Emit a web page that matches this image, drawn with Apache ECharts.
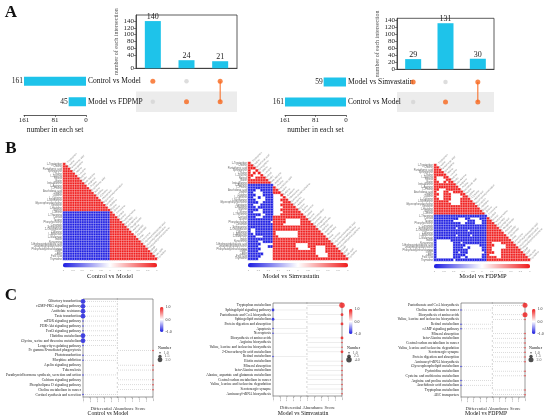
<!DOCTYPE html>
<html>
<head>
<meta charset="utf-8">
<script src="https://cdn.jsdelivr.net/npm/echarts/dist/echarts.min.js"></script>
<style>
  html, body { margin: 0; padding: 0; background: #fff; }
  #chart { width: 550px; height: 420px; }
</style>
</head>
<body>
<div id="chart"></div>
<script>
// ---- Panel A: upset plots ----
// sets are listed bottom row first
const upLeftSets = ['Model vs FDPMP', 'Control vs Model'];
const upLeftSizes = [45, 161];
const upLeftInter = [140, 24, 21];
const upLeftMember = [[0, 1], [1, 0], [1, 1]];   // per column: [bottom, top]

const upRightSets = ['Control vs Model', 'Model vs Simvastatin'];
const upRightSizes = [161, 59];
const upRightInter = [29, 131, 30];
const upRightMember = [[0, 1], [1, 0], [1, 1]];

const setAxisTicks = ['0', '81', '161'];

// ---- Panel B: correlation heatmaps (lower triangle, run length: r=+1, b=-1, .=blank) ----
const metabolites = ['L-Tryptophan', 'Choline', 'Pantothenic acid', 'Sphingosine', 'L-Valine', 'L-Leucine',
  'Retinol', 'Biotin', 'beta-Alanine', 'L-Arginine', 'L-Proline', 'Arachidonic acid', 'Uridine', 'Cytidine',
  'L-Cysteine', 'L-Methionine', 'Glycerophosphocholine', 'Serotonin', 'L-Histidine', 'Glycine', 'L-Serine',
  'L-Threonine', 'Cortisol', 'Taurine', 'Phosphocholine', 'Ceramide', 'Sphinganine', '2-Oxoglutarate',
  'L-Alanine', 'L-Aspartate', 'L-Glutamate', 'Indole', 'Kynurenine', '5-Hydroxyindoleacetic acid',
  'Lysophosphatidylcholine', 'Phosphatidylethanolamine', 'cGMP', 'cAMP', 'Folic acid', 'Thymidine'];

const heatCtrlModel = ['r1', 'r2', 'r3', 'r4', 'r5', 'r6', 'r7', 'r8', 'r9', 'r10',
  'r11', 'r12', 'r13', 'r14', 'r15', 'r16', 'r17', 'r18', 'r19', 'r20',
  'b20r1', 'b20r2', 'b20r3', 'b20r4', 'b20r5', 'b20r6', 'b20r7', 'b20r8', 'b20r9', 'b20r10',
  'b20r11', 'b20r12', 'b20r13', 'b20r14', 'b20r15', 'b20r16', 'b20r17', 'b20r18', 'b20r19', 'b20r20'];

const heatModelSimva = ['r1', 'r2', 'r3', 'r1.2r1', 'r1.1r1.1r1', 'r2.3r1', 'r1.2r4', 'r8', 'r9', 'b10',
  'b10r1', 'b3.2b5r2', 'b2.4b4r3', 'b3.3b4.3r1', 'b2.2b1.2b3.4r1', 'b3.4b3.3r3', 'b4.2b4.4r3',
  'b2.3b5.3r5', 'b3.1b6.4r5', 'b4.2b4.3r7', 'b2.4b4.4r7', 'b5.2b3.3r9', 'b3.3b4r13',
  'b10r5.6r3', 'b9.1r5.6r4', 'b10r4.7r5', 'b10r17', 'b1.2b7r18', 'b1.2b7r1.9r9', 'b2.1b7r1.9r10',
  'b3.3b4r2.8r11', 'b10r22', 'b4.2b4r23', 'b5.5r9.5r10', 'b4.4b2r9.5r3.4r4', 'b5.5r10.5r2.4r5',
  'b4.6r17.4r6', 'b6.4r17.5r6', 'b5.5r18.4r7', 'b4.6r30'];

const heatModelFdpmp = ['r1', 'r2', 'r3', 'r4', 'r5', 'r1.3r2', 'r1.4r2', 'r2.2r1.1r2', 'r9', 'r10',
  'r2.3r6', 'r1.3r2.2r4', 'r2.2r3.4r2', 'r1.3r3.5r2', 'r2.2r3.4r4', 'r6.5r5', 'r7.4r6', 'r18', 'r19',
  'r20', 'r21', 'b22', 'b10.3b2.4b3r1', 'b8.6b3.3b2r2', 'b11.2b4.3b2r3', 'b22r4', 'b9.1b12r5',
  'b14.1b7r6', 'b22r7', 'b9.1b5.1b6r8', 'b22r9', 'b1.6b15r10', 'b1.7b3.1b10r2.4r5',
  'b1.7b5.6b3r3.5r4', 'b1.7b4.2b1.5b2r2.6r5', 'b1.7b6.6b2r2.4r8', 'b1.7b2.1b3.7b1r3.3r9',
  'b1.7b5.7b2r1.5r10', 'b1.7b3.2b1.6b2r4.2r11', 'b8.1b13r18'];

const corrTicks = [-1, 1];

// ---- Panel C: differential abundance scores ----
const ctrlModelPaths = ['Olfactory transduction', 'cGMP-PKG signaling pathway', 'Antifolate resistance',
  'Taste transduction', 'mTOR signaling pathway', 'PI3K-Akt signaling pathway', 'FoxO signaling pathway',
  'Histidine metabolism', 'Glycine, serine and threonine metabolism', 'Longevity regulating pathway',
  'Fc gamma R-mediated phagocytosis', 'Phototransduction', 'Morphine addiction', 'Apelin signaling pathway',
  'Tuberculosis', 'Parathyroid hormone synthesis, secretion and action', 'Calcium signaling pathway',
  'Phospholipase D signaling pathway', 'Choline metabolism in cancer', 'Cortisol synthesis and secretion'];
const ctrlModelScore = [-1, -1, -1, -1, -1, -1, -1, -1, -1, -1, 1, -1, -1, 1, 1, -1, 1, 1, 1, -1];
const ctrlModelNumber = [2, 2, 2, 2, 1, 1, 1, 2, 2, 1, 1, 1, 1, 1, 1, 1, 1, 1, 1, 1];
const ctrlModelLegend = [1.0, 1.5, 2.0];

const simvaPaths = ['Tryptophan metabolism', 'Sphingolipid signaling pathway', 'Pantothenate and CoA biosynthesis',
  'Sphingolipid metabolism', 'Protein digestion and absorption', 'Apoptosis', 'Necroptosis',
  'Biosynthesis of amino acids', 'Arginine biosynthesis', 'Valine, leucine and isoleucine biosynthesis',
  '2-Oxocarboxylic acid metabolism', 'Retinol metabolism', 'Biotin metabolism', 'Mineral absorption',
  'beta-Alanine metabolism', 'Alanine, aspartate and glutamate metabolism', 'Central carbon metabolism in cancer',
  'Valine, leucine and isoleucine degradation', 'Serotonergic synapse', 'Aminoacyl-tRNA biosynthesis'];
const simvaScore = [1, -1, 1, -1, 1, -1, -1, 1, 1, 1, 1, -1, 1, 1, 1, 1, 1, 1, 1, 1];
const simvaNumber = [4, 2, 2, 2, 2, 1, 1, 2, 1, 1, 2, 1, 1, 1, 1, 1, 1, 1, 1, 1];
const simvaLegend = [1.0, 2.5, 4.0];

const fdpmpPaths = ['Pantothenate and CoA biosynthesis', 'Choline metabolism in cancer', 'Biosynthesis of amino acids',
  'Valine, leucine and isoleucine biosynthesis', 'Retinol metabolism', 'cAMP signaling pathway',
  'Mineral absorption', 'beta-Alanine metabolism', 'Central carbon metabolism in cancer',
  'Valine, leucine and isoleucine degradation', 'Serotonergic synapse', 'Protein digestion and absorption',
  'Aminoacyl-tRNA biosynthesis', 'Glycerophospholipid metabolism', 'Pyrimidine metabolism',
  'Cysteine and methionine metabolism', 'Arginine and proline metabolism', 'Arachidonic acid metabolism',
  'Tryptophan metabolism', 'ABC transporters'];
const fdpmpScore = [1, -1, 1, 1, -1, -1, 1, 1, 1, 1, 1, 1, 1, -1, 1, 1, -1, -1, 1, 1];
const fdpmpNumber = [2, 1, 2, 1, 1, 1, 1, 1, 1, 1, 1, 1, 1, 1, 1, 1, 1, 1, 1, 1];
const fdpmpLegend = [1.0, 1.5, 2.0];

const scoreTicks = [-1, 0, 1];

// ------------------------------------------------------------
const serif = 'Liberation Serif';
const cyan = '#1ec3ea';
const orange = '#f8661c';
const blue = '#1c1ce2';
const red = '#f01c1c';

const grids = [], xAxes = [], yAxes = [], series = [], visualMaps = [], graphics = [];

function addGrid(box, xa, ya) {
  const i = grids.length;
  grids.push(Object.assign({}, box));
  xAxes.push(Object.assign({ gridIndex: i }, xa));
  yAxes.push(Object.assign({ gridIndex: i }, ya));
  return i;
}
const noAxis = { type: 'value', show: false };
function addText(x, y, text, font, align) {
  graphics.push({ type: 'text', x: x, y: y, silent: true,
    style: { text: text, font: font, fill: '#111', align: align || 'center', verticalAlign: 'middle' } });
}

function drawUpset(o) {
  const cats = o.inter.map((v, i) => 'I' + i);
  const line = { lineStyle: { color: '#333', width: 0.8 } };
  const gb = addGrid({ left: o.barBox[0], top: o.barBox[1], width: o.barBox[2], height: o.barBox[3],
      show: true, borderColor: '#333', borderWidth: 0.8 },
    { type: 'category', data: cats, axisLabel: { show: false }, axisTick: { show: false }, axisLine: line },
    { type: 'value', min: 0, max: o.barMax, interval: 20, splitLine: { show: false },
      axisLine: Object.assign({ show: true }, line), axisTick: { show: true, length: 2, lineStyle: { color: '#333', width: 0.6 } },
      axisLabel: { fontSize: 7, fontFamily: serif, color: '#222', margin: 2, showMaxLabel: false, showMinLabel: true },
      name: 'number of each intersection', nameLocation: 'middle', nameGap: 15,
      nameTextStyle: { fontSize: 6, fontFamily: serif, color: '#555' } });
  series.push({ type: 'bar', xAxisIndex: gb, yAxisIndex: gb, data: o.inter, barWidth: 16,
    itemStyle: { color: cyan },
    label: { show: true, position: 'top', distance: 0, fontSize: 8, fontFamily: serif, color: '#222' } });

  const gm = addGrid({ left: o.matBox[0], top: o.matBox[1], width: o.matBox[2], height: o.matBox[3] },
    { type: 'category', data: cats, show: false },
    { type: 'category', data: o.sets, axisLine: { show: false }, axisTick: { show: false }, axisLabel: { show: false },
      splitArea: { show: true, areaStyle: { color: ['#ececec', 'rgba(0,0,0,0)'] } } });
  const on = [], off = [];
  o.member.forEach((m, c) => m.forEach((v, r) => (v ? on : off).push([c, r])));
  series.push({ type: 'scatter', xAxisIndex: gm, yAxisIndex: gm, data: off, symbolSize: 4.5,
    itemStyle: { color: '#d4d4d4' } });
  o.member.forEach((m, c) => {
    const pts = [];
    m.forEach((v, r) => { if (v) pts.push([c, r]); });
    if (pts.length > 1) series.push({ type: 'line', xAxisIndex: gm, yAxisIndex: gm, data: pts,
      symbol: 'none', lineStyle: { color: orange, width: 1 }, z: 1 });
  });
  series.push({ type: 'scatter', xAxisIndex: gm, yAxisIndex: gm, data: on, symbolSize: 5,
    itemStyle: { color: orange }, z: 3 });

  const gs = addGrid({ left: o.setBox[0], top: o.setBox[1], width: o.setBox[2], height: o.setBox[3] },
    { type: 'value', inverse: true, min: 0, max: 161, interval: 80.5, offset: 3,
      axisLine: Object.assign({ show: true }, line), axisTick: { show: true, length: 2, lineStyle: { color: '#333', width: 0.6 } },
      splitLine: { show: false },
      axisLabel: { fontSize: 7, fontFamily: serif, color: '#222', margin: 2, formatter: (v, i) => setAxisTicks[i] },
      name: 'number in each set', nameLocation: 'middle', nameGap: 11,
      nameTextStyle: { fontSize: 7.5, fontFamily: serif, color: '#222' } },
    { type: 'category', data: o.sets, position: 'right', axisLine: { show: false }, axisTick: { show: false },
      axisLabel: { fontSize: 7.5, fontFamily: serif, color: '#111', margin: 2 } });
  series.push({ type: 'bar', xAxisIndex: gs, yAxisIndex: gs, data: o.sizes, barWidth: 9,
    itemStyle: { color: cyan },
    label: { show: true, position: 'left', distance: 1, fontSize: 7.5, fontFamily: serif, color: '#222' } });
}

function drawHeat(rows, box, title, titleX) {
  const g = addGrid(box,
    { type: 'category', data: metabolites, show: false },
    { type: 'category', data: metabolites, inverse: true, axisLine: { show: false }, axisTick: { show: false },
      axisLabel: { fontSize: 2.6, color: '#6a6a6a', margin: 1, interval: 0 } });
  const data = [];
  rows.forEach((rle, r) => {
    let c = 0;
    rle.match(/[rb.]\d+/g).forEach(run => {
      const k = run[0], n = +run.slice(1);
      for (let t = 0; t < n; t++, c++) if (k !== '.') data.push([c, r, k === 'r' ? 1 : -1]);
    });
  });
  const si = series.length;
  series.push({ type: 'heatmap', xAxisIndex: g, yAxisIndex: g, data: data,
    itemStyle: { borderColor: '#fff', borderWidth: 0.3 } });
  series.push({ type: 'scatter', xAxisIndex: g, yAxisIndex: g, silent: true,
    data: metabolites.map((m, j) => [j, j]), symbolSize: 0.1, itemStyle: { color: 'rgba(0,0,0,0)' },
    label: { show: true, position: 'right', rotate: 45, distance: 1.5, fontSize: 2.6, color: '#6a6a6a',
      formatter: p => metabolites[p.dataIndex] } });
  visualMaps.push({ type: 'continuous', seriesIndex: si, dimension: 2, min: corrTicks[0], max: corrTicks[1],
    orient: 'horizontal', left: box.left, top: box.top + box.height + 3, itemWidth: 4.5, itemHeight: box.width,
    calculable: false, padding: 0, text: null, hoverLink: false,
    inRange: { color: [blue, '#ffffff', red] } });
  addGrid({ left: box.left, top: box.top + box.height + 8.5, width: box.width, height: 0.5 },
    { type: 'value', min: corrTicks[0], max: corrTicks[1], interval: 0.2, axisLine: { show: false },
      axisTick: { show: false }, splitLine: { show: false },
      axisLabel: { fontSize: 2.4, color: '#888', margin: 0, formatter: v => +v.toFixed(1) } },
    noAxis);
  addText(titleX, 276, title, '6.5px "Liberation Serif"');
}

function drawLolli(paths, score, num, legend, box, maxPx, cbar, leg, title, titleX) {
  const lo = legend[0], hi = legend[legend.length - 1];
  const size = n => 1.5 + (n - lo) / (hi - lo) * (maxPx - 1.5);
  const g = addGrid(Object.assign({ show: true, borderColor: '#555', borderWidth: 0.6 }, box),
    { type: 'value', min: -1, max: 1, interval: 0.2, axisLine: { show: false },
      axisTick: { show: true, length: 1.2, lineStyle: { color: '#444', width: 0.4 } }, splitLine: { show: false },
      axisLabel: { fontSize: 2.6, rotate: 90, margin: 1.2, color: '#333', fontFamily: serif, formatter: v => v.toFixed(1) },
      name: 'Differential Abundance Score', nameLocation: 'middle', nameGap: 5,
      nameTextStyle: { fontSize: 4.6, fontFamily: serif, color: '#333' } },
    { type: 'category', data: paths, inverse: true, axisLine: { show: false },
      axisTick: { show: true, length: 1.2, lineStyle: { color: '#444', width: 0.4 } },
      axisLabel: { fontSize: 3.6, fontFamily: serif, color: '#222', margin: 2, interval: 0 } });
  series.push({ type: 'custom', xAxisIndex: g, yAxisIndex: g, silent: true,
    data: score.map((s, i) => [s, i]),
    renderItem: (params, api) => {
      const a = api.coord([0, api.value(1)]);
      const b = api.coord([api.value(0), api.value(1)]);
      return { type: 'line', shape: { x1: a[0], y1: a[1], x2: b[0], y2: b[1] },
        style: { stroke: '#c4c4c4', lineWidth: 0.6, lineDash: [1, 1] } };
    } });
  const si = series.length;
  series.push({ type: 'scatter', xAxisIndex: g, yAxisIndex: g, z: 3,
    data: score.map((s, i) => [s, i, num[i]]), symbolSize: v => size(v[2]) });
  visualMaps.push({ type: 'continuous', seriesIndex: si, dimension: 0, min: scoreTicks[0], max: scoreTicks[2],
    orient: 'vertical', left: cbar[0], top: cbar[1], itemWidth: 3.5, itemHeight: 25,
    calculable: false, padding: 0, text: null, hoverLink: false,
    inRange: { color: [blue, '#ffffff', red] } });
  addGrid({ left: cbar[0], top: cbar[1], width: 3.5, height: 25 },
    noAxis,
    { type: 'value', position: 'right', min: scoreTicks[0], max: scoreTicks[2], interval: 1,
      axisLine: { show: false }, axisTick: { show: false }, splitLine: { show: false },
      axisLabel: { fontSize: 4, fontFamily: serif, color: '#333', margin: 2, formatter: v => v.toFixed(1) } });
  // size legend
  addText(leg[0], leg[1], 'Number', '4px "Liberation Serif"', 'left');
  const gl = addGrid({ left: leg[0], top: leg[1] + 3, width: 4, height: 10.5 },
    { type: 'value', min: -1, max: 1, show: false },
    { type: 'category', data: legend.map(v => v.toFixed(1)), inverse: true, show: false });
  series.push({ type: 'scatter', xAxisIndex: gl, yAxisIndex: gl, data: legend.map((v, i) => [0, i, v]),
    symbolSize: v => size(v[2]), itemStyle: { color: '#222' },
    label: { show: true, position: 'right', distance: 3, fontSize: 4, fontFamily: serif, color: '#333',
      formatter: p => p.value[2].toFixed(1) } });
  addText(titleX, 413, title, '5.8px "Liberation Serif"');
}

drawUpset({ sets: upLeftSets, sizes: upLeftSizes, inter: upLeftInter, member: upLeftMember,
  barBox: [136, 15, 101, 53.3], barMax: 158, matBox: [136, 71, 101, 41], setBox: [24, 71, 62, 41] });
drawUpset({ sets: upRightSets, sizes: upRightSizes, inter: upRightInter, member: upRightMember,
  barBox: [397, 18.3, 97, 51], barMax: 145, matBox: [397, 72, 97, 40], setBox: [285, 72, 61, 40] });

drawHeat(heatCtrlModel, { left: 63, top: 163, width: 94, height: 97 }, 'Control vs Model', 110);
drawHeat(heatModelSimva, { left: 248, top: 162, width: 100, height: 98 }, 'Model vs Simvastatin', 291);
drawHeat(heatModelFdpmp, { left: 434, top: 164, width: 96, height: 97 }, 'Model vs FDPMP', 483);

drawLolli(ctrlModelPaths, ctrlModelScore, ctrlModelNumber, ctrlModelLegend,
  { left: 83, top: 299, width: 70, height: 98 }, 4.8, [160, 307], [158, 348], 'Control vs Model', 108);
drawLolli(simvaPaths, simvaScore, simvaNumber, simvaLegend,
  { left: 273, top: 303, width: 69, height: 93 }, 5.5, [349, 309], [347, 348], 'Model vs Simvastatin', 303);
drawLolli(fdpmpPaths, fdpmpScore, fdpmpNumber, fdpmpLegend,
  { left: 461, top: 303, width: 64, height: 94 }, 5, [532, 309], [529, 348], 'Model vs FDPMP', 486);

addText(11, 13, 'A', 'bold 17px "Liberation Serif"');
addText(11, 149, 'B', 'bold 17px "Liberation Serif"');
addText(11, 296, 'C', 'bold 17px "Liberation Serif"');

const chart = echarts.init(document.getElementById('chart'));
chart.setOption({
  animation: false,
  backgroundColor: '#ffffff',
  grid: grids,
  xAxis: xAxes,
  yAxis: yAxes,
  visualMap: visualMaps,
  series: series,
  graphic: graphics
});
</script>
</body>
</html>
